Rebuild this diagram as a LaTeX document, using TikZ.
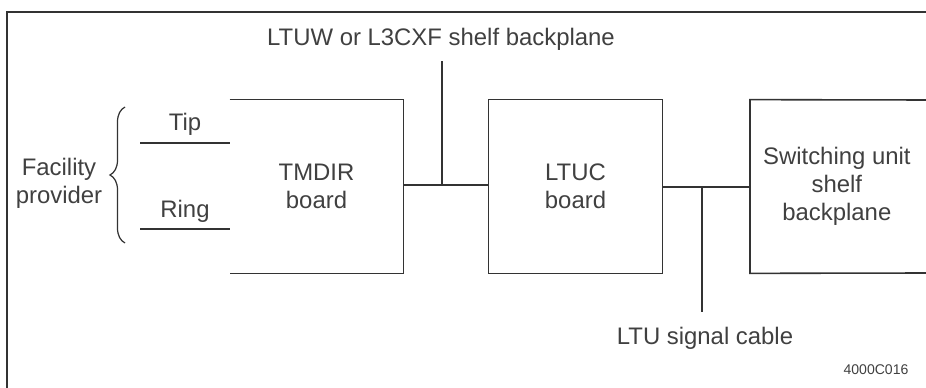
\documentclass[tikz,border=0pt]{standalone}
\usepackage{fontspec}
\setmainfont{Liberation Sans}
\usepackage{xcolor}
\usepackage{tikz}
\usetikzlibrary{decorations.pathreplacing}

\begin{document}
\begin{tikzpicture}[
  every node/.style={font=\fontsize{13.6}{16}\selectfont, align=center,
                     text=black!75, inner sep=1pt},
  board/.style={minimum width=3.46cm, minimum height=3.46cm},
  wire/.style={draw=black!80, line width=0.9pt},
]
  \useasboundingbox (0,0) rectangle (18.52,7.76);
  % frame
  \draw[wire, line width=1.3pt] (0.14,0) -- (0.14,7.52) -- (18.52,7.52);

  % boards
  \node[board] (M) at (6.33, 4.03)  {TMDIR\\board};
  \node[board] (C) at (11.51, 4.03) {LTUC\\board};
  \node[board, anchor=west] (S) at (15.0, 4.03) {Switching unit\\shelf\\backplane};
  \draw[wire] (M.north west) -- (M.north east) -- (M.south east) -- (M.south west);
  \draw[wire] (C.north west) rectangle (C.south east);
  \draw[wire] (18.52,5.76) -- (S.north west) -- (S.south west) -- (18.52,2.3);

  % tip and ring
  \coordinate (t0) at (2.8, 4.9);
  \coordinate (t1) at (4.6, 4.9);
  \coordinate (r0) at (2.8, 3.18);
  \coordinate (r1) at (4.6, 3.18);
  \draw[wire] (t0) -- node[above=3pt] (tip) {Tip} (t1);
  \draw[wire] (r0) -- node[above=2pt] (ring) {Ring} (r1);
  \draw[wire, line width=0.7pt, decorate, decoration={brace, amplitude=0.3cm}]
    (2.5, 2.9) -- (2.5, 5.62) coordinate[midway] (bm);
  \node (F) at (1.18, 4.1) {Facility\\provider};

  % backplane and cable
  \node (B) at (8.82, 6.98) {LTUW or L3CXF shelf backplane};
  \node (L) at (14.1, 1.0) {LTU signal cable};
  \draw[wire] (M.east |- 0,4.06) -- coordinate[pos=0.45] (j1) (C.west |- 0,4.06);
  \draw[wire] (C.east |- 0,4.02) -- coordinate[pos=0.45] (j2) (S.west |- 0,4.02);
  \coordinate (b0) at ([yshift=-0.18cm]B.south);
  \draw[wire] (j1 |- b0) -- (j1);
  \draw[wire] (j2) -- (j2 |- 0,1.52) coordinate (l0);

  \node[font=\fontsize{8}{9}\selectfont] (id) at (17.52, 0.36) {4000C016};
\end{tikzpicture}
\end{document}
